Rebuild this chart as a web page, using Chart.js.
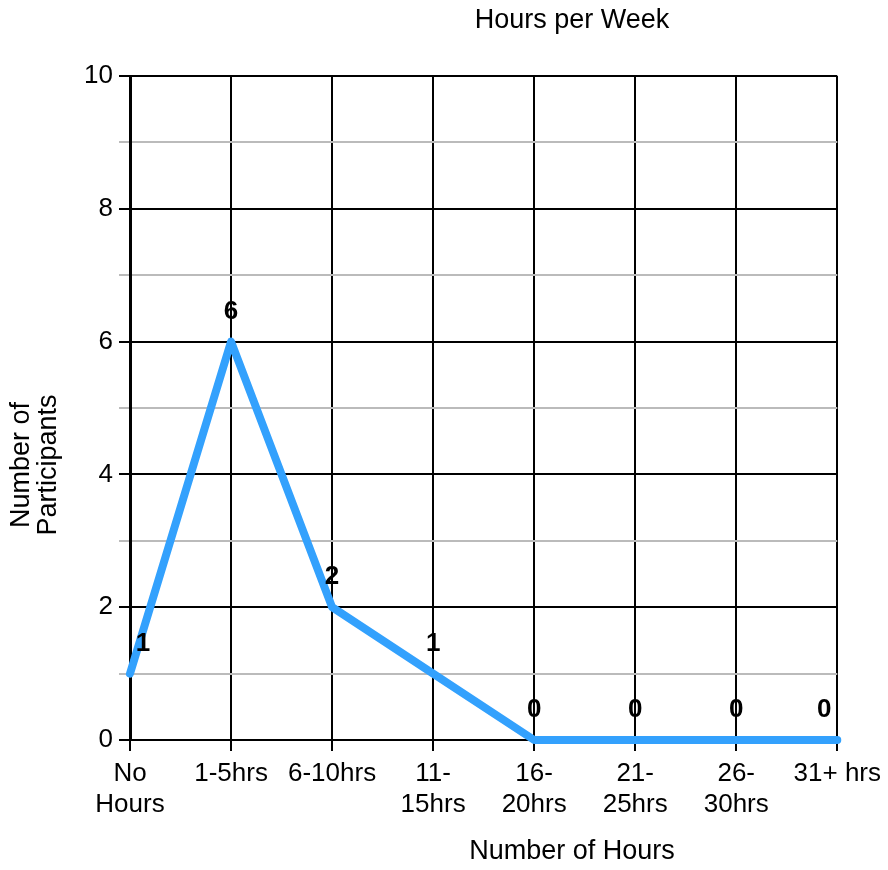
<!DOCTYPE html>
<html>
<head>
<meta charset="utf-8">
<script src="https://cdn.jsdelivr.net/npm/chart.js@4.4.1/dist/chart.umd.min.js"></script>
<style>
  body { margin: 0; background: #fff; }
  canvas { display: block; }
</style>
</head>
<body>
<canvas id="chart" width="888" height="870"></canvas>
<script>
// categories and values
const categories = [['No', 'Hours'], '1-5hrs', '6-10hrs', ['11-', '15hrs'], ['16-', '20hrs'], ['21-', '25hrs'], ['26-', '30hrs'], '31+ hrs'];
const participants = [1, 6, 2, 1, 0, 0, 0, 0];
const yMin = 0;
const yMax = 10;
const yStep = 1;

const FONT = '"Liberation Sans", Arial, Helvetica, sans-serif';
const LINE_BLUE = 'rgb(51, 161, 253)';

// titles + data labels, drawn by hand so they can sit where the original put them
const extras = {
  id: 'extras',
  afterDatasetsDraw(chart) {
    const ctx = chart.ctx;
    const meta = chart.getDatasetMeta(0);
    const last = meta.data.length - 1;
    ctx.save();
    ctx.fillStyle = '#000';
    ctx.textAlign = 'center';
    ctx.textBaseline = 'middle';
    ctx.font = 'bold 26px ' + FONT;
    meta.data.forEach((pt, i) => {
      let dx = 0;
      if (i === 0) dx = 13;
      if (i === last) dx = -13;
      ctx.fillText(String(participants[i]), pt.x + dx, pt.y - 30);
    });

    ctx.font = '27px ' + FONT;
    ctx.fillText('Hours per Week', 572, 21);
    ctx.fillText('Number of Hours', 572, 852);

    ctx.translate(35, 465);
    ctx.rotate(-Math.PI / 2);
    ctx.fillText('Number of', 0, -13);
    ctx.fillText('Participants', 0, 14);
    ctx.restore();
  }
};

new Chart(document.getElementById('chart'), {
  type: 'line',
  data: {
    labels: categories,
    datasets: [{
      data: participants,
      borderColor: LINE_BLUE,
      borderWidth: 8,
      borderCapStyle: 'round',
      borderJoinStyle: 'round',
      tension: 0,
      pointRadius: 0,
      clip: false
    }]
  },
  options: {
    responsive: false,
    animation: false,
    layout: { padding: { top: 76, right: 50, left: 0, bottom: 0 } },
    plugins: {
      legend: { display: false },
      tooltip: { enabled: false },
      title: { display: false }
    },
    scales: {
      x: {
        offset: false,
        afterFit(scale) { scale.height = 130; },
        grid: { color: '#000', lineWidth: 2, tickLength: 11, tickColor: '#000' },
        border: { color: '#000', width: 2 },
        ticks: {
          color: '#000',
          font: { family: FONT, size: 26 },
          padding: 7,
          maxRotation: 0,
          autoSkip: false
        }
      },
      y: {
        min: yMin,
        max: yMax,
        afterFit(scale) { scale.width = 130; },
        grid: {
          color: c => (c.tick && c.tick.value % 2 === 0 ? '#000' : '#bbb'),
          tickColor: c => (c.tick && c.tick.value % 2 === 0 ? '#000' : '#bbb'),
          lineWidth: 2,
          tickLength: 11
        },
        border: { color: '#000', width: 3 },
        ticks: {
          stepSize: yStep,
          color: '#000',
          font: { family: FONT, size: 26 },
          padding: 6,
          callback: v => (v % 2 === 0 ? v : '')
        }
      }
    }
  },
  plugins: [extras]
});
</script>
</body>
</html>
